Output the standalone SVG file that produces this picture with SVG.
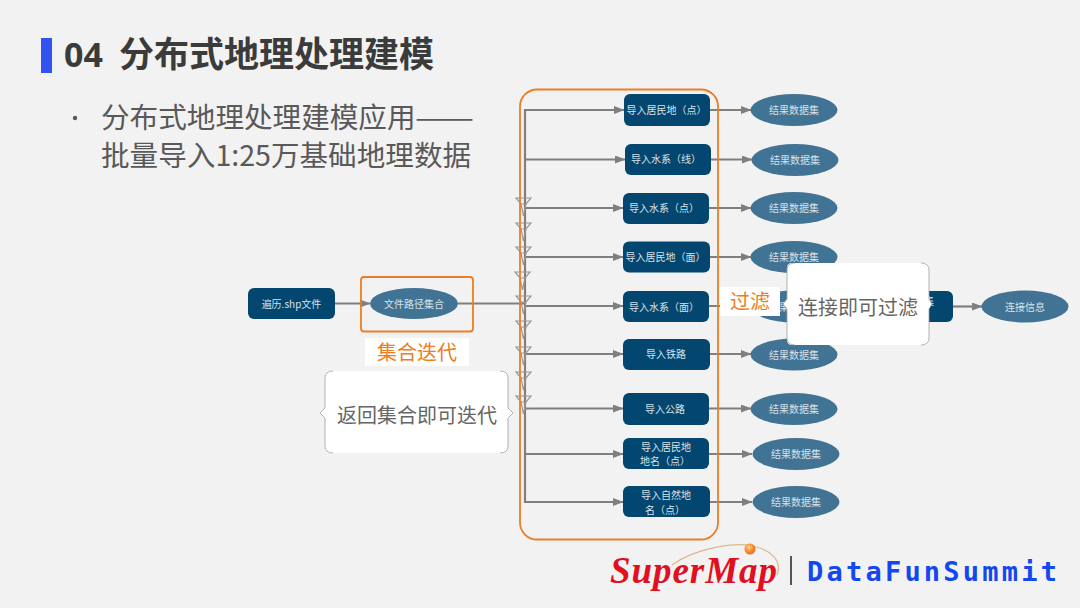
<svg xmlns="http://www.w3.org/2000/svg" width="1080" height="608" viewBox="0 0 1080 608">
<style>
text{font-family:"Noto Sans CJK SC","Noto Sans",sans-serif}
.n{fill:#03466f}
.e{fill:#417394}
.nt{font-size:10px;fill:#d6e2ea;text-anchor:middle;dominant-baseline:central}
.c{stroke:#7f7f7f;stroke-width:2.2;fill:none}
.ca{stroke:#7f7f7f;stroke-width:2.2;fill:none;marker-end:url(#a)}
.f{stroke:#969696;stroke-width:1.2;fill:none}
.o{stroke:#ed7d22;stroke-width:1.8;fill:none}
.ol{font-size:20px;fill:#ed7d22;text-anchor:middle}
.cb{fill:#fff}
.cs{fill:none;stroke:#a0a0a0;stroke-width:.8}
.cl{font-size:20px;fill:#666;text-anchor:middle}
.h{font-size:28.600px;fill:#595959}
</style>
<defs>
<marker id="a" markerUnits="userSpaceOnUse" markerWidth="11" markerHeight="9" refX="10" refY="4" orient="auto"><path d="M0 0L10.500 4L0 8z" fill="#7f7f7f"/></marker>
<g id="fun"><path class="f" d="M0 0H15L10 6H5zM5 6L7.500 18L10 6"/></g>
<radialGradient id="ball" cx=".4" cy=".35" r=".7"><stop offset="0" stop-color="#ffd27a"/><stop offset=".6" stop-color="#f08a2a"/><stop offset="1" stop-color="#e06a20"/></radialGradient>
</defs>
<rect width="1080" height="608" fill="#f2f2f2"/>
<g id="header">
<rect x="41" y="38" width="11" height="35" fill="#3353f0"/>
<text x="64" y="67" font-size="34" font-weight="700" fill="#3b3b3b" style="font-family:'Noto Sans','Noto Sans CJK SC',sans-serif">04</text>
<text x="119" y="67" font-size="35" font-weight="700" fill="#3b3b3b">分布式地理处理建模</text>
<circle cx="75" cy="118" r="2.200" fill="#595959"/>
<text class="h" x="101" y="128">分布式地理处理建模应用</text>
<text class="h" x="415" y="128" textLength="59" lengthAdjust="spacingAndGlyphs">——</text>
<text class="h" x="101" y="166">批量导入1:25万基础地理数据</text>
</g>
<g id="connectors">
<path class="c" d="M525 109V503"/>
<path class="ca" d="M335 303.500H370"/>
<path class="c" d="M458 303.500H525"/>
<path class="ca" d="M525 110H624"/>
<path class="ca" d="M525 159.500H625"/>
<path class="ca" d="M525 208H623"/>
<path class="ca" d="M525 257H623"/>
<path class="ca" d="M525 306H623"/>
<path class="ca" d="M525 354H623"/>
<path class="ca" d="M525 408.500H623"/>
<path class="ca" d="M525 454H623"/>
<path class="ca" d="M525 502H623"/>
<path class="ca" d="M710 110H751"/>
<path class="ca" d="M711 159.500H752"/>
<path class="ca" d="M709 208H751"/>
<path class="ca" d="M709 257H751"/>
<path class="c" d="M709 306H760"/>
<path class="ca" d="M710 354H751"/>
<path class="ca" d="M709 408.500H751"/>
<path class="ca" d="M709 454H752"/>
<path class="ca" d="M710 502H752"/>
<path class="ca" d="M953 306.500H982"/>
<use href="#fun" x="516" y="198"/><use href="#fun" x="516" y="223"/><use href="#fun" x="516" y="247"/><use href="#fun" x="515" y="272"/><use href="#fun" x="516" y="296"/><use href="#fun" x="516" y="321"/><use href="#fun" x="516" y="347"/><use href="#fun" x="516" y="372"/><use href="#fun" x="516" y="396"/>
</g>
<g id="n-source"><rect class="n" x="248" y="288" width="87" height="31" rx="6"/><text class="nt" x="291.500" y="303">遍历.shp文件</text></g>
<g id="n-paths"><ellipse class="e" cx="414" cy="303.500" rx="44" ry="15.500"/><text class="nt" x="414" y="303">文件路径集合</text></g>
<g id="n1"><rect class="n" x="624" y="94" width="86" height="32" rx="6"/><text class="nt" x="666.500" y="109">导入居民地（点）</text></g>
<g id="n2"><rect class="n" x="625" y="144" width="86" height="31" rx="6"/><text class="nt" x="666" y="158.500">导入水系（线）</text></g>
<g id="n3"><rect class="n" x="623" y="193" width="86" height="31" rx="6"/><text class="nt" x="664" y="207.500">导入水系（点）</text></g>
<g id="n4"><rect class="n" x="623" y="241.500" width="87" height="31" rx="6"/><text class="nt" x="665.500" y="256">导入居民地（面）</text></g>
<g id="n5"><rect class="n" x="623" y="291" width="86" height="31" rx="6"/><text class="nt" x="664" y="306">导入水系（面）</text></g>
<g id="n6"><rect class="n" x="623" y="339" width="87" height="31" rx="6"/><text class="nt" x="666" y="353.500">导入铁路</text></g>
<g id="n7"><rect class="n" x="623" y="393" width="86" height="32" rx="6"/><text class="nt" x="665" y="408.500">导入公路</text></g>
<g id="n8"><rect class="n" x="623" y="438" width="86" height="31" rx="6"/><text class="nt" x="666" y="446">导入居民地</text><text class="nt" x="665" y="460.500">地名（点）</text></g>
<g id="n9"><rect class="n" x="623" y="486" width="87" height="31" rx="6"/><text class="nt" x="666" y="494.500">导入自然地</text><text class="nt" x="665" y="509">名（点）</text></g>
<g id="r1"><ellipse class="e" cx="794" cy="110" rx="43.500" ry="16"/><text class="nt" x="794" y="109.500">结果数据集</text></g>
<g id="r2"><ellipse class="e" cx="795" cy="160" rx="43.500" ry="16"/><text class="nt" x="795" y="159.500">结果数据集</text></g>
<g id="r3"><ellipse class="e" cx="794" cy="208" rx="43.500" ry="16"/><text class="nt" x="794" y="207.500">结果数据集</text></g>
<g id="r4"><ellipse class="e" cx="794" cy="257" rx="43.500" ry="16"/><text class="nt" x="794" y="256.500">结果数据集</text></g>
<g id="r5"><ellipse class="e" cx="794" cy="306.500" rx="43.500" ry="16"/><text class="nt" x="784" y="306">果</text></g>
<g id="r6"><ellipse class="e" cx="794" cy="354.500" rx="43.500" ry="16"/><text class="nt" x="794" y="354">结果数据集</text></g>
<g id="r7"><ellipse class="e" cx="794" cy="409" rx="43.500" ry="16"/><text class="nt" x="794" y="408.500">结果数据集</text></g>
<g id="r8"><ellipse class="e" cx="796" cy="454" rx="43.500" ry="16"/><text class="nt" x="796" y="453.500">结果数据集</text></g>
<g id="r9"><ellipse class="e" cx="796" cy="502" rx="43.500" ry="16"/><text class="nt" x="796" y="501.500">结果数据集</text></g>
<g id="n-join"><rect class="n" x="880" y="291" width="73" height="31" rx="6"/><text class="nt" x="929" y="300.500">集</text></g>
<g id="r-join"><ellipse class="e" cx="1025" cy="306.500" rx="43.500" ry="16"/><text class="nt" x="1025" y="306">连接信息</text></g>
<g id="frames">
<rect class="o" x="361" y="277" width="112" height="54.500" rx="3"/>
<rect class="o" x="520" y="89.500" width="198" height="450" rx="17"/>
</g>
<g id="label-collect"><rect x="365" y="338" width="104" height="28" fill="#fff"/><text class="ol" x="417" y="360">集合迭代</text></g>
<g id="callout-collect"><path class="cb" d="M330 371H503Q508 371 508 376V408L513 413L508 418V448Q508 453 503 453H330Q325 453 325 448V418L320 413L325 408V376Q325 371 330 371Z"/><path class="cs" d="M333 371Q325 371 325 378V408L320 413L325 418V446Q325 453 333 453M500 371Q508 371 508 378V408L513 413L508 418V446Q508 453 500 453"/><text class="cl" x="417" y="423">返回集合即可迭代</text></g>
<g id="callout-filter"><path class="cb" d="M792 263H924Q929 263 929 268V299L932 304L929 309V340Q929 345 924 345H792Q787 345 787 340V309L783 304L787 299V268Q787 263 792 263Z"/><path class="cs" d="M795 263Q787 263 787 270V299L783 304L787 309V338Q787 345 795 345M921 263Q929 263 929 270V299L932 304L929 309V338Q929 345 921 345"/><text class="cl" x="858" y="315">连接即可过滤</text></g>
<g id="label-filter"><rect x="720" y="287" width="60" height="29" fill="#fff"/><text class="ol" x="750" y="309">过滤</text></g>
<g id="logo">
<path d="M672 565C695 548 735 542 752 546C773 550 782 562 777 575" fill="none" stroke="#dcb98a" stroke-width="1.200"/>
<circle cx="750" cy="549" r="5.500" fill="url(#ball)"/>
<text x="610" y="583" font-size="37" font-weight="700" font-style="italic" fill="#e0101e" style="font-family:'Liberation Serif',serif" textLength="167">SuperMap</text>
<rect x="790" y="556" width="2" height="29" fill="#555"/>
<text x="807" y="581" font-size="27" font-weight="700" fill="#1348f0" style="font-family:'DejaVu Sans Mono',monospace" textLength="250">DataFunSummit</text>
</g>
</svg>
